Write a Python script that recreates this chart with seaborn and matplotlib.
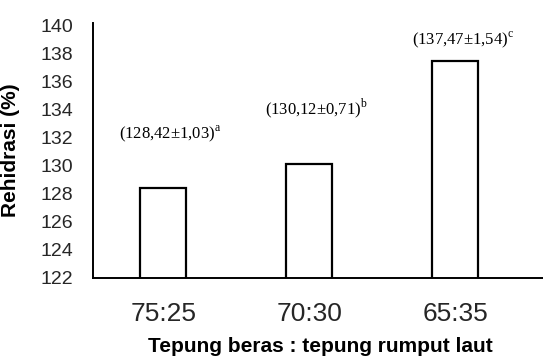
import matplotlib
matplotlib.use("Agg")
import matplotlib.pyplot as plt
import seaborn as sns
import pandas as pd

categories = ["75:25", "70:30", "65:35"]
means = [128.42, 130.12, 137.47]
sds = [1.03, 0.71, 1.54]
letters = ["a", "b", "c"]
label_y = [132.3, 134.1, 139.0]
yticks = list(range(122, 141, 2))

sns.set_theme(style="white")
plt.rcParams["font.family"] = ["Liberation Sans", "DejaVu Sans"]
plt.rcParams["mathtext.fontset"] = "custom"
plt.rcParams["mathtext.rm"] = "Liberation Serif"

df = pd.DataFrame({"ratio": categories, "rehidrasi": means})

fig = plt.figure(figsize=(5.43, 3.58), dpi=100)
ax = fig.add_axes([93 / 543, 1 - 278 / 358, 450 / 543, 255 / 358])

sns.barplot(data=df, x="ratio", y="rehidrasi", color="white", edgecolor="black",
            linewidth=1.6, width=0.315, ax=ax, saturation=1)

ax.set_ylim(122, 140.2)
ax.set_xlim(-0.48, 2.6)
ax.set_yticks(yticks)
ax.set_yticklabels([str(t) for t in yticks], fontsize=14)
ax.tick_params(axis="y", length=0, pad=14)
ax.tick_params(axis="x", length=0, pad=17, labelsize=19)

for s in ["top", "right"]:
    ax.spines[s].set_visible(False)
for s in ["left", "bottom"]:
    ax.spines[s].set_color("black")
    ax.spines[s].set_linewidth(1.4)

ax.set_xlabel("Tepung beras : tepung rumput laut", fontsize=15, fontweight="bold", color="black")
ax.set_ylabel("Rehidrasi (%)", fontsize=15, fontweight="bold", color="black")
ax.xaxis.set_label_coords(0.505, -0.232)
ax.yaxis.set_label_coords(-0.163, 0.5)

for i, (m, s, l, ly) in enumerate(zip(means, sds, letters, label_y)):
    txt = f"({m:.2f}±{s:.2f})".replace(".", ",") + r"$^{\mathrm{" + l + "}}$"
    ax.text(i + 0.05, ly, txt, ha="center", va="center", fontsize=12,
            family=["Liberation Serif", "DejaVu Serif"], color="black")

fig.savefig("out.png", dpi=100)
